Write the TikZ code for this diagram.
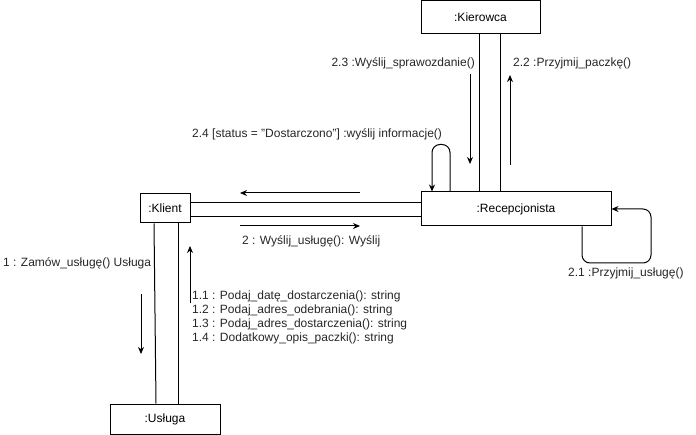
\documentclass[tikz,border=0pt]{standalone}
\usepackage{fontspec}
\setmainfont{Liberation Sans}
\usetikzlibrary{arrows.meta,calc}
\tikzset{
  obj/.style={draw, line width=1pt, inner sep=0pt, fill=white, font=\fontsize{12}{14}\selectfont},
  lnk/.style={line width=1pt},
  msg/.style={line width=1pt, -{Stealth[length=7pt,width=6pt]}},
  lbl/.style={inner sep=0pt, font=\fontsize{12}{14}\selectfont, text=black!85}
}
\begin{document}
\begin{tikzpicture}[x=1pt,y=-1pt]
\useasboundingbox (0,0) rectangle (696,435);
% objects
\node[obj, minimum width=119pt, minimum height=33pt] (kier) at (480.5,17) {:Kierowca};
\node[obj, minimum width=190pt, minimum height=34pt] (rec) at (516,209) {:Recepcjonista};
\node[obj, minimum width=50pt, minimum height=29pt] (kl) at (165,208.5) {:Klient};
\node[obj, minimum width=110pt, minimum height=30pt] (us) at (165,419) {:Usługa};
% links
\draw[lnk] ([yshift=5.5pt]kl.east) -- ([yshift=5.5pt]kl.east -| rec.west);
\draw[lnk] ([yshift=-8.5pt]kl.east) -- ([yshift=-8.5pt]kl.east -| rec.west);
\draw[lnk] ([xshift=-1.5pt]kier.south) -- ([xshift=-1.5pt]kier.south |- rec.north);
\draw[lnk] ([xshift=19.5pt]kier.south) -- ([xshift=19.5pt]kier.south |- rec.north);
\draw[lnk] ([xshift=-11pt]kl.south) -- ([xshift=-9pt]us.north);
\draw[lnk] ([xshift=13pt]kl.south) -- ([xshift=13pt]us.north);
% self loops
\draw[msg, rounded corners=8pt] ([xshift=-66pt]rec.north) -- ++(0,-47) -| ([xshift=-84pt]rec.north);
\draw[msg, rounded corners=8pt] ([xshift=66pt]rec.south) |- (651,263) |- ([yshift=0pt]rec.east);
% message arrows
\coordinate (a1s) at (360,193); \coordinate (a1e) at (240,193);
\coordinate (a2s) at (240,226); \coordinate (a2e) at (360,226);
\coordinate (a3s) at (141,294); \coordinate (a3e) at (141,354);
\coordinate (a4s) at (190,303); \coordinate (a4e) at (190,246);
\coordinate (a5s) at (470,74);  \coordinate (a5e) at (470,164);
\coordinate (a6s) at (510,165); \coordinate (a6e) at (510,75);
\draw[msg] (a1s) -- (a1e);
\draw[msg] (a2s) -- (a2e);
\draw[msg] (a3s) -- (a3e);
\draw[msg] (a4s) -- (a4e);
\draw[msg] (a5s) -- (a5e);
\draw[msg] (a6s) -- (a6e);
% labels
\node[lbl, anchor=west] (l2) at (242,241) {2 : Wyślij\_usługę(): Wyślij};
\node[lbl, anchor=west] (l1) at (3,263) {1 : Zamów\_usługę() Usługa};
\node[lbl, anchor=north west, align=left] (l11) at (192,291) {1.1 : Podaj\_datę\_dostarczenia(): string\\1.2 : Podaj\_adres\_odebrania(): string\\1.3 : Podaj\_adres\_dostarczenia(): string\\1.4 : Dodatkowy\_opis\_paczki(): string};
\node[lbl, anchor=east] (l23) at (475,63) {2.3 :Wyślij\_sprawozdanie()};
\node[lbl, anchor=west] (l22) at (513,63) {2.2 :Przyjmij\_paczkę()};
\node[lbl, anchor=west] (l24) at (192,134) {2.4 [status = "Dostarczono"] :wyślij informacje()};
\node[lbl, anchor=west] (l21) at (568,273) {2.1 :Przyjmij\_usługę()};
\end{tikzpicture}
\end{document}
